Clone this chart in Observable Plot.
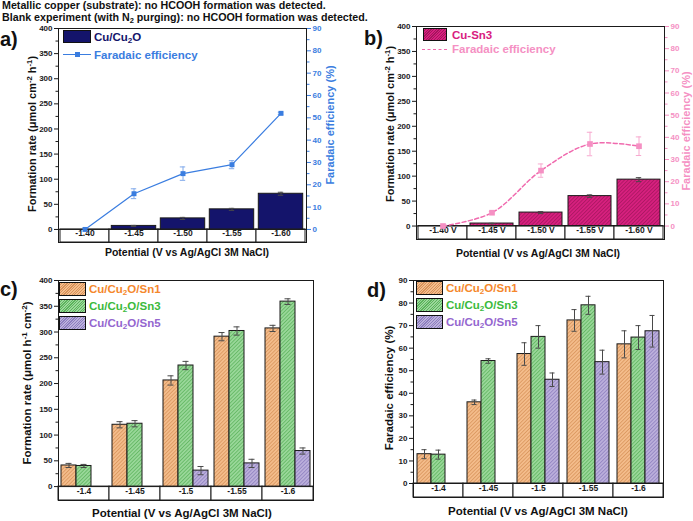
<!DOCTYPE html>
<html>
<head>
<meta charset="utf-8">
<script src="https://cdn.jsdelivr.net/npm/d3@7"></script>
<script src="https://cdn.jsdelivr.net/npm/@observablehq/plot@0.6"></script>
<style>
  html, body { margin: 0; padding: 0; background: #fff; }
  #figure { position: relative; width: 693px; height: 521px; overflow: hidden;
            font-family: "Liberation Sans", Arial, sans-serif; font-weight: bold; color: #111; }
  .abs { position: absolute; white-space: nowrap; }
  .note { left: 2px; font-size: 10.7px; line-height: 12px; }
  .tag { font-size: 20px; line-height: 20px; }
  .title { transform: translate(-50%, -50%); line-height: 14px; }
  .rot { transform: translate(-50%, -50%) rotate(-90deg); }
  .leg { font-size: 11.5px; line-height: 14px; transform: translateY(-50%); }
  .sw { position: absolute; box-sizing: border-box; border: 1px solid #111; }
  sub { font-size: 70%; vertical-align: -0.3em; line-height: 0; }
  sup { font-size: 70%; vertical-align: 0.55em; line-height: 0; }
  svg { overflow: visible; }
</style>
</head>
<body>
<div id="figure">
  <div class="abs note" style="top:-1px">Metallic copper (substrate): no HCOOH formation was detected.</div>
  <div class="abs note" style="top:11px">Blank experiment (with N<sub>2</sub> purging): no HCOOH formation was detected.</div>
</div>
<script>
// ---------- panel a: Cu/Cu2O ----------
const potentialsA = ["-1.40", "-1.45", "-1.50", "-1.55", "-1.60"];
const rateA = [0, 7, 22, 40, 71];
const rateErrA = [0, 1, 2, 2, 3];
const feA = [0, 16, 25, 29, 52];
const feErrA = [0, 2.2, 3, 1.8, 0.5];

// ---------- panel b: Cu-Sn3 ----------
const potentialsB = ["-1.40 V", "-1.45 V", "-1.50 V", "-1.55 V", "-1.60 V"];
const rateB = [0, 5, 27, 60, 93];
const rateErrB = [0, 0.5, 2, 2.5, 4];
const feB = [0, 6, 25, 37, 36];
const feErrB = [0, 0.5, 3, 5.3, 4.2];

// ---------- panels c, d: Cu/Cu2O/Snx ----------
const potentialsCD = ["-1.4", "-1.45", "-1.5", "-1.55", "-1.6"];
const seriesCD = ["Cu/Cu₂O/Sn1", "Cu/Cu₂O/Sn3", "Cu/Cu₂O/Sn5"];
const rateSn1 = [41, 120, 206, 291, 307];
const rateSn3 = [40, 122, 235, 302, 359];
const rateSn5 = [null, null, 31, 45, 69];
const rateErrSn1 = [4, 6, 9, 8, 6];
const rateErrSn3 = [3, 6, 8, 8, 5.5];
const rateErrSn5 = [null, null, 8, 8, 6];
const feSn1 = [13, 36, 57.4, 72.3, 61.7];
const feSn3 = [12.8, 54.3, 65, 79, 64.7];
const feSn5 = [null, null, 46, 53.8, 67.5];
const feErrSn1 = [2, 1, 5, 4.8, 6];
const feErrSn3 = [2, 1, 5, 4, 5.3];
const feErrSn5 = [null, null, 3, 5.3, 7];

// ---------- axis ticks ----------
const rateTicks = [0, 50, 100, 150, 200, 250, 300, 350, 400];
const rateMinor = [25, 75, 125, 175, 225, 275, 325, 375];
const feTicks = [0, 10, 20, 30, 40, 50, 60, 70, 80, 90];
const feMinor = [5, 15, 25, 35, 45, 55, 65, 75, 85];

const RATE_MAX = 400, FE_MAX = 90;
const feToRate = RATE_MAX / FE_MAX;

const C = {
  navy: "#14146b", blue: "#3a7de0",
  magenta: "#d8207f", magentaInk: "#a5165e", pink: "#f06aae", pinkLight: "#f590c3",
  orange: "#f4bd8c", orangeInk: "#d8925a", orangeText: "#f5882c",
  green: "#9ad89a", greenInk: "#5db35d", greenText: "#3cba3c",
  purple: "#bcb0dc", purpleInk: "#8d7fbf", purpleText: "#9466cf",
  ink: "#1a1a1a", err: "#4a4a4a"
};
const seriesFill = ["url(#hatch-orange)", "url(#hatch-green)", "url(#hatch-purple)"];
const seriesSwatch = [[C.orange, C.orangeInk], [C.green, C.greenInk], [C.purple, C.purpleInk]];
const seriesText = [C.orangeText, C.greenText, C.purpleText];

const plotStyle = {fontFamily: "'Liberation Sans', Arial, sans-serif", fontWeight: "bold",
                   fontSize: "8px", color: C.ink, background: "transparent", overflow: "visible"};

const fig = document.getElementById("figure");

// fine diagonal hatching used for the bar fills
function hatchDefs(svg, patterns) {
  const defs = d3.select(svg).insert("defs", ":first-child");
  const s = 2.6;
  for (const [id, base, ink] of patterns) {
    const p = defs.append("pattern").attr("id", id).attr("patternUnits", "userSpaceOnUse")
      .attr("width", s).attr("height", s).attr("patternTransform", "rotate(45)");
    p.append("rect").attr("width", s).attr("height", s).attr("fill", base);
    p.append("line").attr("x1", 0.5).attr("x2", 0.5).attr("y1", 0).attr("y2", s)
      .attr("stroke", ink).attr("stroke-width", 0.8);
  }
}

function place(node, left, top) {
  node.style.position = "absolute";
  node.style.left = left + "px";
  node.style.top = top + "px";
  fig.append(node);
  return node;
}

function label(htmlText, cls, x, y, extra = "") {
  const d = document.createElement("div");
  d.className = "abs " + cls;
  d.innerHTML = htmlText;
  d.style.cssText += `left:${x}px;top:${y}px;${extra}`;
  fig.append(d);
  return d;
}

function swatch(x, y, w, h, background) {
  const d = document.createElement("div");
  d.className = "sw";
  d.style.cssText += `left:${x}px;top:${y}px;width:${w}px;height:${h}px;background:${background};`;
  fig.append(d);
}

function hatchCss(base, ink) {
  return `repeating-linear-gradient(135deg, ${base} 0 1.1px, ${ink} 1.1px 1.9px)`;
}

const sub2 = s => s.replace("₂", "<sub>2</sub>");

// Rate bars with a Faradaic-efficiency line on a secondary axis (panels a, b)
function rateFePanel(o) {
  const rows = o.potentials.map((p, i) => ({
    p, rate: o.rate[i], rateErr: o.rateErr[i],
    fe: o.fe[i] * feToRate, feErr: o.feErr[i] * feToRate
  }));
  const errRows = rows.filter(d => d.rateErr > 0);
  const feErrRows = rows.filter(d => d.feErr > 0);
  const band = (o.width - o.m[0] - o.m[2]) / o.potentials.length;
  const cap = (band - 6) / 2;
  const svg = Plot.plot({
    width: o.width, height: o.height,
    marginLeft: o.m[0], marginTop: o.m[1], marginRight: o.m[2], marginBottom: o.m[3],
    style: plotStyle,
    x: {domain: o.potentials, padding: 0, axis: null},
    y: {domain: [-o.rowDepth, RATE_MAX]},
    marks: [
      Plot.barY(o.potentials, {x: d => d, y1: -o.rowDepth, y2: 0, fill: "white", stroke: C.ink}),
      Plot.text(o.potentials, {x: d => d, text: d => d, frameAnchor: "bottom", dy: -6.5,
                               fontSize: 8.5, fontWeight: "bold", fill: C.ink}),
      Plot.ruleY([0], {stroke: C.ink}),
      Plot.barY(rows, {x: "p", y: "rate", fill: o.barFill, stroke: C.ink, strokeWidth: 1,
                       insetLeft: o.inset, insetRight: o.inset}),
      Plot.ruleX(errRows, {x: "p", y1: d => d.rate - d.rateErr, y2: d => d.rate + d.rateErr, stroke: C.err}),
      Plot.tickY(errRows, {x: "p", y: d => d.rate + d.rateErr, stroke: C.err, insetLeft: cap, insetRight: cap}),
      Plot.tickY(errRows, {x: "p", y: d => d.rate - d.rateErr, stroke: C.err, insetLeft: cap, insetRight: cap}),
      Plot.line(rows, {x: "p", y: "fe", stroke: o.lineColor, strokeWidth: o.lineWidth,
                       strokeDasharray: o.dash, curve: o.curve}),
      Plot.ruleX(feErrRows, {x: "p", y1: d => d.fe - d.feErr, y2: d => d.fe + d.feErr, stroke: o.errColor}),
      Plot.tickY(feErrRows, {x: "p", y: d => d.fe + d.feErr, stroke: o.errColor, insetLeft: cap, insetRight: cap}),
      Plot.tickY(feErrRows, {x: "p", y: d => d.fe - d.feErr, stroke: o.errColor, insetLeft: cap, insetRight: cap}),
      Plot.dot(rows, {x: "p", y: "fe", symbol: "square", r: o.markerR, fill: o.markerFill, stroke: "none"}),
      Plot.axisY(rateTicks, {anchor: "left", tickSize: 4, tickPadding: 2, label: null, fill: C.ink}),
      Plot.axisY(rateMinor, {anchor: "left", tickSize: 2.5, tickFormat: () => "", label: null}),
      Plot.axisY(feTicks.map(v => v * feToRate), {anchor: "right", tickSize: 4, tickPadding: 2, label: null,
                 tickFormat: d => String(Math.round(d / feToRate)), color: o.axisColor}),
      Plot.axisY(feMinor.map(v => v * feToRate), {anchor: "right", tickSize: 2.5, tickFormat: () => "",
                 label: null, color: o.axisColor}),
      Plot.frame({stroke: C.ink})
    ]
  });
  if (o.patterns) hatchDefs(svg, o.patterns);
  return svg;
}

// Grouped hatched bars faceted by potential (panels c, d)
function groupedPanel(o) {
  const rows = [];
  potentialsCD.forEach((p, i) => seriesCD.forEach((s, j) => {
    const v = o.values[j][i];
    if (v != null) rows.push({p, s, v, e: o.errors[j][i]});
  }));
  const facet = (o.width - o.m[0] - o.m[2]) / potentialsCD.length;
  const band = facet / (seriesCD.length + 2 * o.outer);
  const cap = (band - 6) / 2;
  const svg = Plot.plot({
    width: o.width, height: o.height,
    marginLeft: o.m[0], marginTop: o.m[1], marginRight: o.m[2], marginBottom: o.m[3],
    style: plotStyle,
    fx: {domain: potentialsCD, padding: 0, axis: null, label: null},
    x: {domain: seriesCD, paddingInner: 0, paddingOuter: o.outer, axis: null},
    y: {domain: [-o.rowDepth, o.yMax]},
    color: {domain: seriesCD, range: seriesFill},
    marks: [
      Plot.rect(potentialsCD, {fx: d => d, y1: -o.rowDepth, y2: 0, fill: "white", stroke: C.ink}),
      Plot.text(potentialsCD, {fx: d => d, text: d => d, frameAnchor: "bottom", dy: -7,
                               fontSize: 8.5, fontWeight: "bold", fill: C.ink}),
      Plot.ruleY([0], {stroke: C.ink}),
      Plot.barY(rows, {fx: "p", x: "s", y: "v", fill: "s", stroke: C.ink, strokeWidth: 1}),
      Plot.ruleX(rows, {fx: "p", x: "s", y1: d => d.v - d.e, y2: d => d.v + d.e, stroke: C.err}),
      Plot.tickY(rows, {fx: "p", x: "s", y: d => d.v + d.e, stroke: C.err, insetLeft: cap, insetRight: cap}),
      Plot.tickY(rows, {fx: "p", x: "s", y: d => d.v - d.e, stroke: C.err, insetLeft: cap, insetRight: cap}),
      Plot.axisY(o.ticks, {anchor: "left", tickSize: 4, tickPadding: 2, label: null, fill: C.ink}),
      Plot.axisY(o.minor, {anchor: "left", tickSize: 2.5, tickFormat: () => "", label: null}),
      Plot.frame({facet: "super", stroke: C.ink})
    ]
  });
  hatchDefs(svg, [["hatch-orange", C.orange, C.orangeInk], ["hatch-green", C.green, C.greenInk],
                  ["hatch-purple", C.purple, C.purpleInk]].map(([id, b, k]) => [id + o.suffix, b, k]));
  d3.select(svg).selectAll("[fill^='url(#hatch-']").attr("fill", function () {
    return this.getAttribute("fill").replace(")", o.suffix + ")");
  });
  return svg;
}

// ---- a ----
place(rateFePanel({
  potentials: potentialsA, rate: rateA, rateErr: rateErrA, fe: feA, feErr: feErrA,
  width: 346, height: 230, m: [58, 8, 40, 8], rowDepth: 26, inset: 2.3,
  barFill: C.navy, lineColor: C.blue, lineWidth: 1.2, dash: null, curve: "linear",
  errColor: "#7fa9ea", markerFill: C.blue, markerR: 2.8, axisColor: C.blue
}), 0, 20);

// ---- b ----
place(rateFePanel({
  potentials: potentialsB, rate: rateB, rateErr: rateErrB, fe: feB, feErr: feErrB,
  width: 343, height: 230, m: [66, 6, 29, 11], rowDepth: 27, inset: 3,
  barFill: "url(#hatch-magenta)", patterns: [["hatch-magenta", C.magenta, C.magentaInk]],
  lineColor: C.pink, lineWidth: 1.5, dash: "4,2.5", curve: "catmull-rom",
  errColor: "#f7a9cf", markerFill: C.pinkLight, markerR: 3.2, axisColor: C.pinkLight
}), 350, 20);

// ---- c ----
place(groupedPanel({
  values: [rateSn1, rateSn3, rateSn5], errors: [rateErrSn1, rateErrSn3, rateErrSn5],
  width: 340, height: 235, m: [58, 10, 27, 5], rowDepth: 27, yMax: RATE_MAX,
  ticks: rateTicks, minor: rateMinor, outer: 0.2, suffix: "-c"
}), 0, 270);

// ---- d ----
place(groupedPanel({
  values: [feSn1, feSn3, feSn5], errors: [feErrSn1, feErrSn3, feErrSn5],
  width: 343, height: 235, m: [61, 10, 28, 8], rowDepth: 6.2, yMax: FE_MAX,
  ticks: feTicks, minor: feMinor, outer: 0.2, suffix: "-d"
}), 350, 270);

// ---- panel tags ----
label("a)", "tag", 0, 29);
label("b)", "tag", 364, 28);
label("c)", "tag", 0, 279);
label("d)", "tag", 367, 280);

// ---- axis titles ----
const rateTitleA = "Formation rate (μmol cm<sup>-2</sup> h<sup>-1</sup>)";
const rateTitleC = "Formation rate (μmol h<sup>-1</sup> cm<sup>-2</sup>)";
const feTitle = "Faradaic efficiency (%)";
const potentialTitle = "Potential (V vs Ag/AgCl 3M NaCl)";
label(rateTitleA, "title rot", 32, 134, "font-size:11px;");
label(feTitle, "title rot", 330, 125, `font-size:11px;color:${C.blue};`);
label(potentialTitle, "title", 187, 252, "font-size:10.5px;");
label(rateTitleA, "title rot", 390, 124, "font-size:11px;");
label(feTitle, "title rot", 686, 131, `font-size:11px;color:${C.pinkLight};`);
label(potentialTitle, "title", 538, 253, "font-size:10.5px;");
label(rateTitleC, "title rot", 27, 383, "font-size:11.5px;");
label(potentialTitle, "title", 182, 513, "font-size:11.5px;");
label(feTitle, "title rot", 389, 388, "font-size:11.5px;");
label(potentialTitle, "title", 538, 511, "font-size:11.5px;");

// ---- legends ----
swatch(63, 30, 28, 13, C.navy);
label(sub2("Cu/Cu₂O"), "leg", 94, 37, `color:${C.navy};`);
label("", "", 63, 54, `width:28px;height:0;border-top:1.3px solid ${C.blue};`);
label("", "", 75, 51.5, `width:5px;height:5px;background:${C.blue};`);
label("Faradaic efficiency", "leg", 94, 55, `color:${C.blue};`);

swatch(423, 28, 24, 13, hatchCss(C.magenta, C.magentaInk));
label("Cu-Sn3", "leg", 452, 35, `color:${C.magenta};`);
label("", "", 422, 49, `width:25px;height:0;border-top:1.5px dashed ${C.pink};`);
label("Faradaic efficiency", "leg", 452, 49, `color:${C.pinkLight};`);

[[59, 282, 89], [416, 281, 446]].forEach(([sx, sy, tx]) => {
  seriesCD.forEach((s, j) => {
    const y = sy + j * 17.2;
    swatch(sx, y, 27, 13.5, hatchCss(seriesSwatch[j][0], seriesSwatch[j][1]));
    label(sub2(s), "leg", tx, y + 7, `color:${seriesText[j]};`);
  });
});
</script>
</body>
</html>
